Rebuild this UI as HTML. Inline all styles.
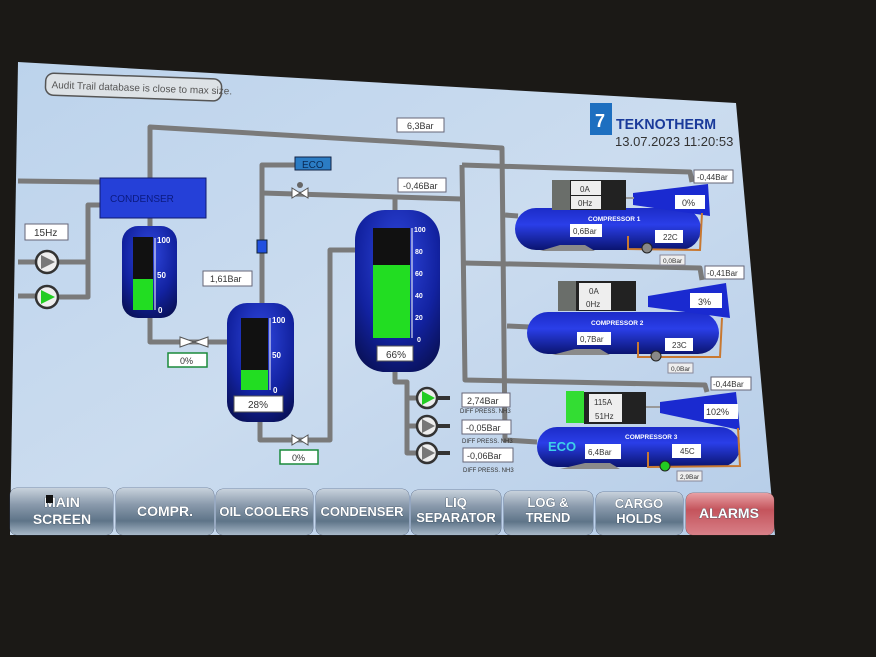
<!DOCTYPE html>
<html><head><meta charset="utf-8"><style>
html,body{margin:0;padding:0;background:#1b1916;}
svg{display:block;}
text{font-family:"Liberation Sans",sans-serif;}
</style></head><body>
<svg width="876" height="657" viewBox="0 0 876 657" xmlns="http://www.w3.org/2000/svg">
<defs>
<linearGradient id="scr" x1="0" y1="0" x2="1" y2="1">
<stop offset="0" stop-color="#bcd3ec"/><stop offset="0.5" stop-color="#cbdcef"/><stop offset="1" stop-color="#b6cde8"/></linearGradient>
<radialGradient id="tank" cx="0.5" cy="0.3" r="0.8">
<stop offset="0" stop-color="#3048e0"/><stop offset="0.6" stop-color="#1222a0"/><stop offset="1" stop-color="#080f50"/></radialGradient>
<linearGradient id="comp" x1="0" y1="0" x2="0" y2="1">
<stop offset="0" stop-color="#1c2cc8"/><stop offset="0.4" stop-color="#2a3ee8"/><stop offset="1" stop-color="#0a1470"/></linearGradient>
<linearGradient id="btn" x1="0" y1="0" x2="0" y2="1">
<stop offset="0" stop-color="#c8d2dc"/><stop offset="0.35" stop-color="#8a9aac"/><stop offset="0.7" stop-color="#5e7488"/><stop offset="1" stop-color="#a8b8c8"/></linearGradient>
<linearGradient id="alm" x1="0" y1="0" x2="0" y2="1">
<stop offset="0" stop-color="#e8a0a4"/><stop offset="0.4" stop-color="#c4545c"/><stop offset="1" stop-color="#d88088"/></linearGradient>
</defs>
<rect width="876" height="657" fill="#1b1916"/>
<polygon points="18,62 736,103 775,535 10,535" fill="url(#scr)"/>

<g transform="rotate(2 47 72)"><rect x="46" y="73" width="176" height="22" rx="8" fill="#dde2e6" stroke="#555" stroke-width="1.5"/>
<text x="52" y="88" font-size="10" fill="#555">Audit Trail database is close to max size.</text></g>

<g fill="none" stroke="#7a7a7a" stroke-width="5" stroke-linejoin="round">
<polyline points="18,181 100,182"/>
<polyline points="100,205 88,205 88,297 58,297"/>
<polyline points="88,262 58,262"/>
<polyline points="18,262 36,262"/><polyline points="18,296 36,296"/>
<polyline points="150,178 150,127 502,148 505,440 537,442"/>
<polyline points="262,303 262,165 295,165"/>
<polyline points="262,193 395,197 462,199"/>
<polyline points="395,197 395,212"/>
<polyline points="462,165 690,172 692,182"/>
<polyline points="462,165 465,380 705,385 707,392"/>
<polyline points="464,263 700,268 702,280"/>
<polyline points="505,215 518,216"/>
<polyline points="507,326 530,327"/>
<polyline points="150,318 150,342 227,342"/>
<polyline points="260,420 260,440 330,440 330,250 355,250"/>
<polyline points="395,372 395,382 407,382 407,453 420,453"/>
<polyline points="407,398 420,398"/><polyline points="407,426 420,426"/>
<polyline points="150,218 150,226"/>
</g>
<g stroke="#333" stroke-width="4"><line x1="437" y1="398" x2="450" y2="398"/><line x1="437" y1="426" x2="450" y2="426"/><line x1="437" y1="453" x2="450" y2="453"/></g>
<g fill="#fff" stroke="#555" stroke-width="1"><polygon points="180,337 180,347 194,342"/><polygon points="194,342 208,337 208,347"/>
<polygon points="292,435 292,445 300,440"/><polygon points="300,440 308,435 308,445"/>
<polygon points="292,188 292,198 300,193"/><polygon points="300,193 308,188 308,198"/></g>
<circle cx="300" cy="185" r="3" fill="#666"/>
<rect x="257" y="240" width="10" height="13" fill="#2050e0" stroke="#123" stroke-width="1"/>

<rect x="100" y="178" width="106" height="40" fill="#2540d8" stroke="#101a70"/>
<text x="110" y="202" font-size="10" fill="#0b1a80">CONDENSER</text>
<rect x="25" y="224" width="43" height="16" fill="#fff" stroke="#667"/><text x="34" y="236" font-size="10" fill="#333">15Hz</text>
<g stroke="#333" stroke-width="2.5"><circle cx="47" cy="262" r="11" fill="#eee"/><circle cx="47" cy="297" r="11" fill="#eee"/></g>
<polygon points="41,255 41,269 55,262" fill="#777"/><polygon points="41,290 41,304 55,297" fill="#22cc22"/>

<rect x="122" y="226" width="55" height="92" rx="16" fill="url(#tank)"/>
<rect x="133" y="237" width="20" height="73" fill="#111"/><rect x="133" y="279" width="20" height="31" fill="#22dd22"/>
<line x1="155" y1="238" x2="155" y2="310" stroke="#fff"/>
<g font-size="8" fill="#fff" font-weight="bold"><text x="157" y="243">100</text><text x="157" y="278">50</text><text x="158" y="313">0</text></g>
<rect x="168" y="353" width="39" height="14" fill="#fff" stroke="#1a8a3a" stroke-width="1.5"/><text x="180" y="364" font-size="9" fill="#333">0%</text>

<rect x="227" y="303" width="67" height="119" rx="20" fill="url(#tank)"/>
<rect x="241" y="318" width="27" height="72" fill="#111"/><rect x="241" y="370" width="27" height="20" fill="#22dd22"/>
<line x1="270" y1="318" x2="270" y2="390" stroke="#fff"/>
<g font-size="8" fill="#fff" font-weight="bold"><text x="272" y="323">100</text><text x="272" y="358">50</text><text x="273" y="393">0</text></g>
<rect x="234" y="396" width="49" height="16" fill="#fff" stroke="#555"/><text x="248" y="408" font-size="10" fill="#333">28%</text>
<rect x="280" y="450" width="38" height="14" fill="#fff" stroke="#1a8a3a" stroke-width="1.5"/><text x="292" y="461" font-size="9" fill="#333">0%</text>
<rect x="203" y="271" width="49" height="15" fill="#fff" stroke="#667"/><text x="210" y="282" font-size="9" fill="#333">1,61Bar</text>
<rect x="295" y="157" width="36" height="13" fill="#2b7cc4" stroke="#124"/><text x="302" y="168" font-size="10" fill="#0a2a55">ECO</text>

<rect x="355" y="210" width="85" height="162" rx="30" fill="url(#tank)"/>
<rect x="373" y="228" width="37" height="110" fill="#111"/><rect x="373" y="265" width="37" height="73" fill="#22dd22"/>
<line x1="412" y1="228" x2="412" y2="338" stroke="#fff"/>
<g font-size="7" fill="#fff" font-weight="bold"><text x="414" y="232">100</text><text x="415" y="254">80</text><text x="415" y="276">60</text><text x="415" y="298">40</text><text x="415" y="320">20</text><text x="417" y="342">0</text></g>
<rect x="377" y="346" width="36" height="15" fill="#fff" stroke="#555"/><text x="386" y="358" font-size="10" fill="#333">66%</text>
<rect x="397" y="118" width="47" height="14" fill="#fff" stroke="#667"/><text x="407" y="129" font-size="9" fill="#333">6,3Bar</text>
<rect x="398" y="178" width="48" height="14" fill="#fff" stroke="#667"/><text x="403" y="189" font-size="9" fill="#333">-0,46Bar</text>

<g stroke="#333" stroke-width="2.5" fill="#eee"><circle cx="427" cy="398" r="10"/><circle cx="427" cy="426" r="10"/><circle cx="427" cy="453" r="10"/></g>
<polygon points="422,391 422,405 435,398" fill="#22cc22"/><polygon points="422,419 422,433 435,426" fill="#777"/><polygon points="422,446 422,460 435,453" fill="#777"/>
<g font-size="9" fill="#333"><rect x="462" y="393" width="48" height="14" fill="#fff" stroke="#667"/><text x="467" y="404">2,74Bar</text>
<rect x="462" y="420" width="49" height="14" fill="#fff" stroke="#667"/><text x="466" y="431">-0,05Bar</text>
<rect x="463" y="448" width="50" height="14" fill="#fff" stroke="#667"/><text x="467" y="459">-0,06Bar</text></g>
<g font-size="6" fill="#333"><text x="460" y="413">DIFF PRESS. NH3</text><text x="462" y="443">DIFF PRESS. NH3</text><text x="463" y="472">DIFF PRESS. NH3</text></g>

<rect x="590" y="103" width="22" height="32" fill="#1d6fc0"/><text x="595" y="127" font-size="18" fill="#fff" font-weight="bold">7</text>
<text x="616" y="129" font-size="15" font-weight="bold" fill="#1a3a9a" textLength="100" lengthAdjust="spacingAndGlyphs">TEKNOTHERM</text>
<text x="615" y="146" font-size="13" fill="#333">13.07.2023 11:20:53</text>

<g>
<rect x="515" y="208" width="186" height="42" rx="21" fill="url(#comp)"/>
<rect x="552" y="180" width="18" height="30" fill="#6a6e6a"/><rect x="570" y="180" width="56" height="30" fill="#222"/>
<polygon points="633,193 708,184 710,216 633,205" fill="#1a2ad0"/>
<line x1="626" y1="198" x2="634" y2="198" stroke="#999" stroke-width="2"/>
<g font-size="8" fill="#333"><rect x="571" y="181" width="30" height="14" fill="#eee"/><text x="580" y="192">0A</text>
<rect x="571" y="196" width="30" height="13" fill="#eee"/><text x="578" y="206">0Hz</text>
<rect x="675" y="195" width="30" height="14" fill="#fff"/><text x="682" y="206" font-size="9">0%</text></g>
<text x="588" y="221" font-size="6.5" font-weight="bold" fill="#fff">COMPRESSOR 1</text>
<g font-size="8" fill="#333"><rect x="570" y="224" width="32" height="13" fill="#fff"/><text x="573" y="234">0,6Bar</text>
<rect x="655" y="230" width="28" height="13" fill="#fff"/><text x="663" y="240">22C</text></g>
<polyline points="628,236 628,249 700,250 702,213" fill="none" stroke="#c87830" stroke-width="2"/>
<circle cx="647" cy="248" r="5" fill="#888" stroke="#222"/>
<rect x="660" y="255" width="25" height="10" fill="#eee" stroke="#889"/><text x="663" y="263" font-size="6.5" fill="#333">0,0Bar</text>
<rect x="694" y="170" width="39" height="13" fill="#fff" stroke="#667"/><text x="697" y="180" font-size="8" fill="#333">-0,44Bar</text>
</g>
<g>
<rect x="527" y="312" width="192" height="42" rx="21" fill="url(#comp)"/>
<rect x="558" y="281" width="18" height="30" fill="#6a6e6a"/><rect x="576" y="281" width="60" height="30" fill="#222"/>
<polygon points="648,296 726,283 730,318 648,307" fill="#1a2ad0"/>
<g font-size="8" fill="#333"><rect x="579" y="283" width="32" height="14" fill="#eee"/><text x="589" y="294">0A</text>
<rect x="579" y="297" width="32" height="13" fill="#eee"/><text x="586" y="307">0Hz</text>
<rect x="690" y="293" width="32" height="15" fill="#fff"/><text x="698" y="305" font-size="9">3%</text></g>
<text x="591" y="325" font-size="6.5" font-weight="bold" fill="#fff">COMPRESSOR 2</text>
<g font-size="8" fill="#333"><rect x="577" y="332" width="34" height="13" fill="#fff"/><text x="580" y="342">0,7Bar</text>
<rect x="665" y="338" width="28" height="13" fill="#fff"/><text x="672" y="348">23C</text></g>
<polyline points="638,342 638,357 720,357 722,318" fill="none" stroke="#c87830" stroke-width="2"/>
<circle cx="656" cy="356" r="5" fill="#888" stroke="#222"/>
<rect x="668" y="363" width="25" height="10" fill="#eee" stroke="#889"/><text x="671" y="371" font-size="6.5" fill="#333">0,0Bar</text>
<rect x="705" y="266" width="39" height="13" fill="#fff" stroke="#667"/><text x="707" y="276" font-size="8" fill="#333">-0,41Bar</text>
</g>
<g>
<rect x="537" y="427" width="203" height="40" rx="20" fill="url(#comp)"/>
<rect x="566" y="391" width="18" height="32" fill="#33dd33"/><rect x="584" y="392" width="62" height="32" fill="#222"/>
<polygon points="660,402 736,392 740,430 660,413" fill="#1a2ad0"/>
<line x1="646" y1="407" x2="660" y2="407" stroke="#999" stroke-width="2"/>
<g font-size="8" fill="#333"><rect x="589" y="394" width="33" height="14" fill="#eee"/><text x="594" y="405">115A</text>
<rect x="589" y="408" width="33" height="14" fill="#eee"/><text x="595" y="419">51Hz</text>
<rect x="704" y="404" width="34" height="15" fill="#fff"/><text x="706" y="415" font-size="9">102%</text></g>
<text x="625" y="439" font-size="6.5" font-weight="bold" fill="#fff">COMPRESSOR 3</text>
<text x="548" y="451" font-size="13" font-weight="bold" fill="#3ed0e8">ECO</text>
<g font-size="8" fill="#333"><rect x="585" y="444" width="36" height="15" fill="#fff"/><text x="588" y="455">6,4Bar</text>
<rect x="672" y="444" width="29" height="14" fill="#fff"/><text x="680" y="454">45C</text></g>
<polyline points="648,452 648,467 740,466 738,428" fill="none" stroke="#c87830" stroke-width="2"/>
<circle cx="665" cy="466" r="5" fill="#22cc22" stroke="#222"/>
<rect x="677" y="471" width="25" height="10" fill="#eee" stroke="#889"/><text x="680" y="479" font-size="6.5" fill="#333">2,9Bar</text>
<rect x="711" y="377" width="40" height="13" fill="#fff" stroke="#667"/><text x="713" y="387" font-size="8" fill="#333">-0,44Bar</text>
</g>
<g fill="#8a8a8a"><polygon points="540,251 595,251 585,245 560,245"/><polygon points="552,355 610,355 600,349 575,349"/><polygon points="560,469 620,469 610,463 585,463"/></g>

<g font-size="14" font-weight="bold" fill="#fff" text-anchor="middle" style="paint-order:stroke" stroke="#3a4a5a" stroke-width="0.6">
<rect x="10" y="488" width="103" height="47" rx="7" fill="url(#btn)" stroke="#2a3a5a"/>
<text x="62" y="507">MAIN</text><text x="62" y="524">SCREEN</text>
<rect x="116" y="488" width="98" height="47" rx="7" fill="url(#btn)" stroke="#2a3a5a"/><text x="165" y="516">COMPR.</text>
<rect x="216" y="489" width="97" height="46" rx="7" fill="url(#btn)" stroke="#2a3a5a"/><text x="264" y="516" font-size="13">OIL COOLERS</text>
<rect x="316" y="489" width="93" height="46" rx="7" fill="url(#btn)" stroke="#2a3a5a"/><text x="362" y="516" font-size="13">CONDENSER</text>
<rect x="411" y="490" width="90" height="45" rx="7" fill="url(#btn)" stroke="#2a3a5a"/><text x="456" y="507" font-size="13">LIQ</text><text x="456" y="522" font-size="13">SEPARATOR</text>
<rect x="504" y="491" width="89" height="44" rx="7" fill="url(#btn)" stroke="#2a3a5a"/><text x="548" y="507" font-size="13">LOG &amp;</text><text x="548" y="522" font-size="13">TREND</text>
<rect x="596" y="492" width="87" height="43" rx="7" fill="url(#btn)" stroke="#2a3a5a"/><text x="639" y="508" font-size="13">CARGO</text><text x="639" y="523" font-size="13">HOLDS</text>
<rect x="686" y="493" width="88" height="42" rx="7" fill="url(#alm)" stroke="#5a2a2a"/><text x="729" y="518">ALARMS</text>
</g>
<rect x="46" y="495" width="7" height="8" fill="#111"/>
</svg>
</body></html>
